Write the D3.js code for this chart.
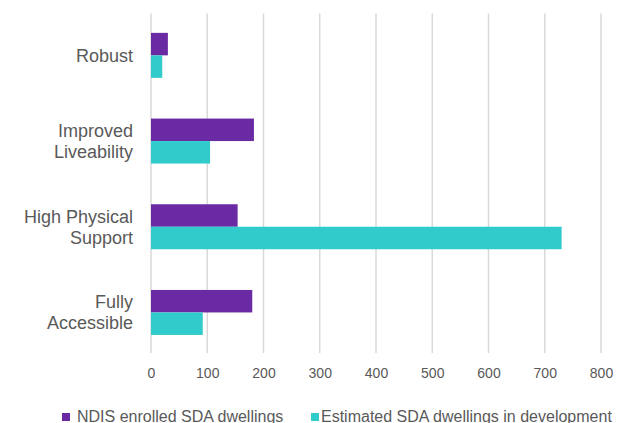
<!DOCTYPE html>
<html><head><meta charset="utf-8">
<script src="https://cdn.jsdelivr.net/npm/d3@7"></script>
<style>body{margin:0;background:#fff;font-family:"Liberation Sans",Arial,sans-serif}</style>
</head><body>
<svg id="c" width="617" height="423"></svg>
<script>
const categories = [["Robust"],["Improved","Liveability"],["High Physical","Support"],["Fully","Accessible"]];
const seriesNames = ["NDIS enrolled SDA dwellings","Estimated SDA dwellings in development"];
const enrolled = [30, 183, 154, 180];
const development = [20, 105, 730, 92];
const ticks = [0,100,200,300,400,500,600,700,800];
const colors = ["#6a2aa4","#31cbcc"];

(function(){
const svg = d3.select("#c");
const pL = 151, pR = 601, pT = 12.5, pB = 355.3;
const x = d3.scaleLinear().domain([0,800]).range([pL,pR]);
const y = d3.scaleBand().domain(d3.range(categories.length)).range([pT,pB]).paddingInner(0.475).paddingOuter(0.2375);
const y1 = d3.scaleBand().domain([0,1]).range([0,y.bandwidth()]);

svg.append("g").selectAll("line").data(ticks).join("line")
  .attr("x1",d=>x(d)).attr("x2",d=>x(d)).attr("y1",pT+1).attr("y2",353)
  .attr("stroke","#d9d9d9").attr("stroke-width",1.5);

const ax = d3.axisBottom(x).tickValues(ticks).tickSize(0).tickPadding(0);
const g = svg.append("g").attr("transform",`translate(0,${368})`).call(ax);
g.select(".domain").remove();
g.selectAll("text").attr("fill","#595959").style("font-size","14px").style("font-family","Liberation Sans, Arial, sans-serif");

const data = [enrolled, development];
data.forEach((vals,si)=>{
  svg.append("g").selectAll("rect").data(vals).join("rect")
    .attr("x",x(0)).attr("y",(d,i)=>y(i)+y1(si))
    .attr("width",d=>x(d)-x(0)).attr("height",y1.bandwidth())
    .attr("fill",colors[si]);
});

categories.forEach((lines,i)=>{
  const cy = y(i)+y.bandwidth()/2;
  const lh = 21;
  const t = svg.append("text").attr("text-anchor","end").attr("fill","#595959")
    .style("font-size","18px");
  lines.forEach((ln,k)=>{
    t.append("tspan").attr("x",133).attr("y",cy + (k-(lines.length-1)/2)*lh + 6.5).text(ln);
  });
});

const legX = [62, 311];
const legText = [77, 321];
seriesNames.forEach((n,i)=>{
  svg.append("rect").attr("x",legX[i]).attr("y",413).attr("width",8).attr("height",8).attr("fill",colors[i]);
  svg.append("text").attr("x",legText[i]).attr("y",421.5).attr("fill","#595959").style("font-size","16px").text(n);
});
})();
</script>
</body></html>
